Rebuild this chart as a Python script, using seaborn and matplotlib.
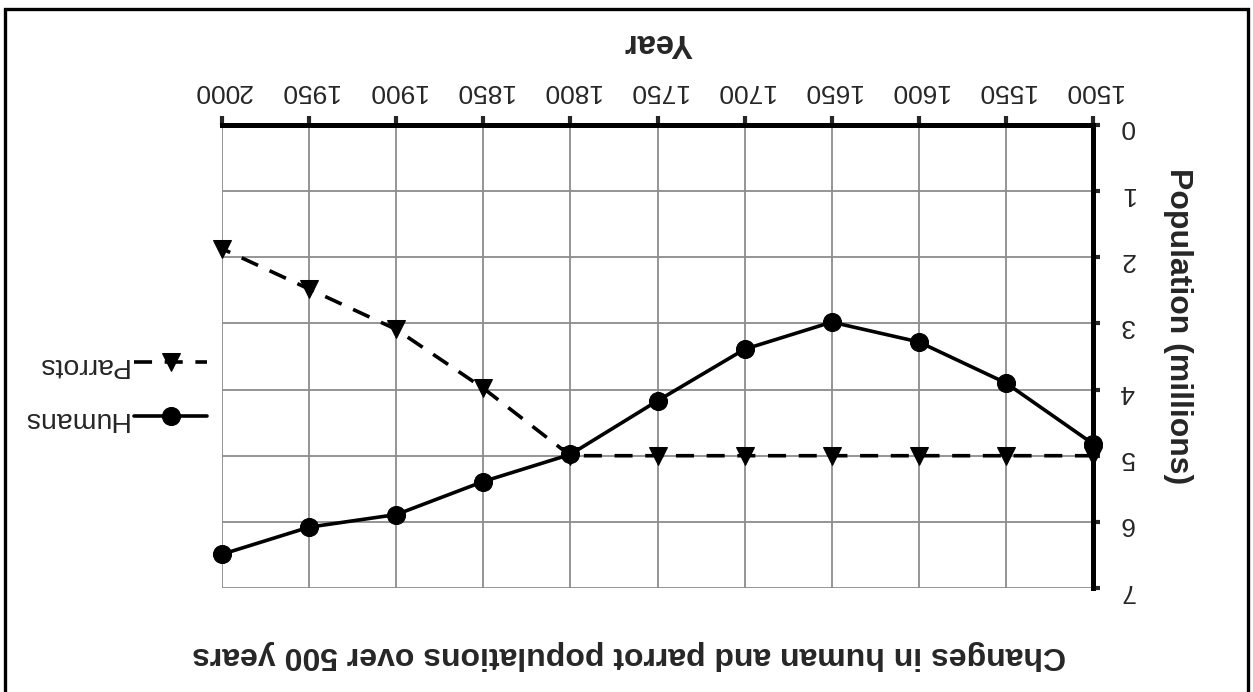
import matplotlib
matplotlib.use("Agg")
import matplotlib.pyplot as plt
import seaborn as sns
import numpy as np
from matplotlib.patches import Rectangle

# --- data ---
years = [1500, 1550, 1600, 1650, 1700, 1750, 1800, 1850, 1900, 1950, 2000]
humans = [4.82, 3.9, 3.28, 2.98, 3.39, 4.17, 4.98, 5.39, 5.89, 6.08, 6.49]
parrots = [5.0, 5.0, 5.0, 5.0, 5.0, 5.0, 5.0, 3.98, 3.09, 2.48, 1.87]
y_ticks = [0, 1, 2, 3, 4, 5, 6, 7]

title = "Changes in human and parrot populations over 500 years"
x_label = "Year"
y_label = "Population (millions)"

sns.set_style("white")
plt.rcParams['font.family'] = ['Liberation Sans', 'DejaVu Sans']
FS = 19

W, H = 1253, 692
fig = plt.figure(figsize=(W / 100, H / 100), dpi=100)
ax = fig.add_axes([222 / W, 1 - 588 / H, (1093 - 222) / W, (588 - 125) / H])

# whole chart is shown upside down (rotated 180 degrees)
sns.lineplot(x=years, y=humans, ax=ax, color='black', marker='o', markersize=13,
             markeredgecolor='black', linewidth=2.6, label='Humans', zorder=3,
             clip_on=False)
sns.lineplot(x=years, y=parrots, ax=ax, color='black', marker='v', markersize=13,
             markeredgecolor='black', linewidth=2.6, linestyle=(0, (5, 3.5)),
             label='Parrots', zorder=3, clip_on=False)

ax.set_xlim(2000, 1500)
ax.set_ylim(7, 0)
ax.set_xticks(years)
ax.set_yticks(y_ticks)
ax.xaxis.tick_top()
ax.yaxis.tick_right()
ax.grid(True, color='#8c8c8c', linewidth=1.3, zorder=0)
ax.set_axisbelow(True)

for s in ['left', 'bottom']:
    ax.spines[s].set_visible(False)
for s in ['top', 'right']:
    ax.spines[s].set_linewidth(3.6)
    ax.spines[s].set_color('black')
    ax.spines[s].set_capstyle('projecting')

ax.tick_params(axis='x', direction='out', length=6.5, width=3, labelsize=FS,
               labelrotation=180, pad=9, top=True, bottom=False)
ax.tick_params(axis='y', direction='out', length=5, width=3, labelsize=FS,
               labelrotation=180, pad=14, right=True, left=False)
ax.set_xlabel("")
ax.set_ylabel("")

# axis titles and chart title (upside down)
fig.text(658 / W, 1 - 43 / H, x_label, rotation=180, ha='center', va='center',
         fontsize=23.5, fontweight='bold')
fig.text(1178 / W, 1 - 326 / H, y_label, rotation=270, ha='center', va='center',
         fontsize=23, fontweight='bold')
fig.text(629 / W, 1 - 655 / H, title, rotation=180, ha='center', va='center',
         fontsize=23, fontweight='bold')

# legend (Parrots above Humans in the flipped view)
handles, labels = ax.get_legend_handles_labels()
order = [1, 0]
leg = ax.legend([handles[i] for i in order], [labels[i] for i in order],
                loc='center right', bbox_to_anchor=(207 / W, 1 - 392 / H),
                bbox_transform=fig.transFigure, frameon=False, markerfirst=False,
                fontsize=20.5, handlelength=2.55, handletextpad=0.25,
                labelspacing=1.0, borderpad=0, borderaxespad=0)
for t in leg.get_texts():
    t.set_rotation(180)

# outer frame
fig.patches.append(Rectangle((5 / W, -0.05), (1248 - 5) / W, 1.05 - 9 / H,
                             transform=fig.transFigure, fill=False,
                             edgecolor='black', linewidth=2.4))

fig.savefig("out.png", dpi=100)
